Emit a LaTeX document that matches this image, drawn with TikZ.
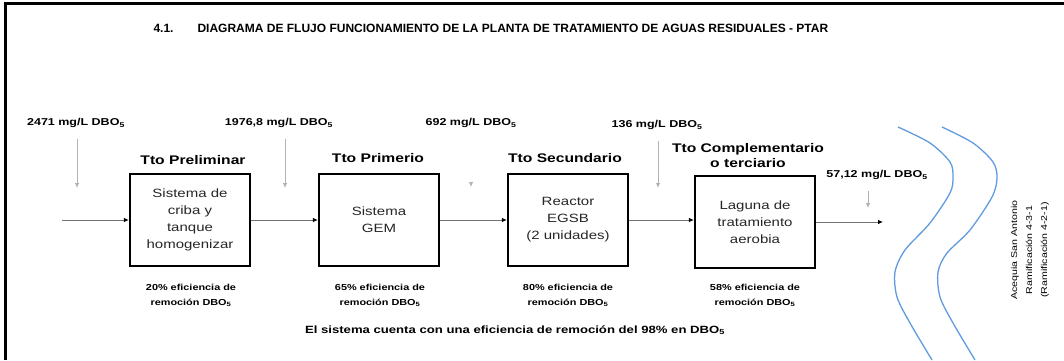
\documentclass[tikz,border=0pt]{standalone}
\usepackage{fontspec}
\setmainfont{Liberation Sans}[FakeStretch=1.25]
\newfontfamily\titlefont{Liberation Sans}
\usetikzlibrary{arrows.meta}
\definecolor{riverblue}{RGB}{95,155,222}
\def\dbo{DBO\textsubscript{5}}

\begin{document}
\begin{tikzpicture}[x=1pt, y=-1pt,
                    procbox/.style = {draw, line width=2.4pt, minimum width=120pt,
                      minimum height=92pt, align=center, text=black!85,
                      font=\fontsize{12}{17}\selectfont},
                    stage/.style = {align=center, font=\bfseries\fontsize{12.5}{15}\selectfont},
                    conc/.style = {font=\bfseries\fontsize{10}{11}\selectfont},
                    eff/.style = {align=center, font=\bfseries\fontsize{8.7}{15}\selectfont},
                    flow/.style = {draw=black!55, line width=0.8pt,
                      -{Latex[length=5pt,width=4.5pt,black]}},
                    drop/.style = {draw=black!30, line width=0.8pt, shorten <=8pt,
                      -{Latex[length=5pt,width=4.5pt]}},
                    river/.style = {draw=riverblue, line width=1.3pt}]
  \useasboundingbox (0,0) rectangle (1064,360);
  \draw[line width=3pt] (5,360) -- (5,3) -- (1064,3);
  \node[anchor=west] (title) at (150,28)
    {\titlefont\bfseries\fontsize{12}{14}\selectfont 4.1.\hspace{24pt}DIAGRAMA DE FLUJO FUNCIONAMIENTO DE LA PLANTA DE TRATAMIENTO DE AGUAS RESIDUALES - PTAR};

  \node[conc] (c1) at (76,123) {2471 mg/L \dbo};
  \node[conc] (c2) at (279,123) {1976,8 mg/L \dbo};
  \node[conc] (c3) at (471,123) {692 mg/L \dbo};
  \node[conc] (c4) at (657,125) {136 mg/L \dbo};
  \node[conc] (c5) at (877,175) {57,12 mg/L \dbo};

  \node[stage] (s1) at (193,160) {Tto Preliminar};
  \node[stage] (s2) at (378,158) {Tto Primerio};
  \node[stage] (s3) at (565,158) {Tto Secundario};
  \node[stage] (s4) at (748,156) {Tto Complementario\\o terciario};

  \node[procbox] (proc1) at (190,220) {Sistema de\\criba y\\tanque\\homogenizar};
  \node[procbox] (proc2) at (379,220) {Sistema\\GEM};
  \node[procbox] (proc3) at (568,220) {Reactor\\EGSB\\(2 unidades)};
  \node[procbox] (proc4) at (755,222) {Laguna de\\tratamiento\\aerobia};

  \coordinate (src) at (62,220);
  \coordinate (sink) at (883,222);
  \draw[flow] (src) -- (proc1);
  \draw[flow] (proc1) -- (proc2);
  \draw[flow] (proc2) -- (proc3);
  \draw[flow] (proc3) -- (proc3 -| proc4.west);
  \draw[flow] (proc4) -- (sink);

  \coordinate (d1) at (77,188);
  \coordinate (d2) at (285,188);
  \coordinate (d3) at (471,187);
  \coordinate (d4) at (658,188);
  \coordinate (d5) at (868,208);
  \draw[drop] (c1.south -| d1) -- (d1);
  \draw[drop] (c2.south -| d2) -- (d2);
  \draw[drop, shorten <=52pt] (c3.south -| d3) -- (d3);
  \draw[drop] (c4.south -| d4) -- (d4);
  \draw[drop] (c5.south -| d5) -- (d5);

  \node[eff] (e1) at (191,295) {20\% eficiencia de\\remoción \dbo};
  \node[eff] (e2) at (380,295) {65\% eficiencia de\\remoción \dbo};
  \node[eff] (e3) at (568,295) {80\% eficiencia de\\remoción \dbo};
  \node[eff] (e4) at (755,295) {58\% eficiencia de\\remoción \dbo};
  \node[font=\bfseries\fontsize{10.5}{12}\selectfont] (total) at (515,330)
    {El sistema cuenta con una eficiencia de remoción del 98\% en \dbo};

  \draw[river] plot[smooth] coordinates {(898,127) (930,143) (950,162) (953,177) (950,193)
    (930,223) (905,250) (895,272) (897,297) (910,323) (932,360)};
  \draw[river] plot[smooth] coordinates {(942,127) (973,143) (993,162) (997,178) (992,197)
    (970,230) (947,253) (938,272) (940,297) (953,323) (975,360)};
  \node[rotate=90, align=center, font=\fontsize{8.5}{15}\selectfont] (acequia) at (1030,250)
    {Acequia San Antonio\\Ramificación 4-3-1\\(Ramificación 4-2-1)};
\end{tikzpicture}
\end{document}
